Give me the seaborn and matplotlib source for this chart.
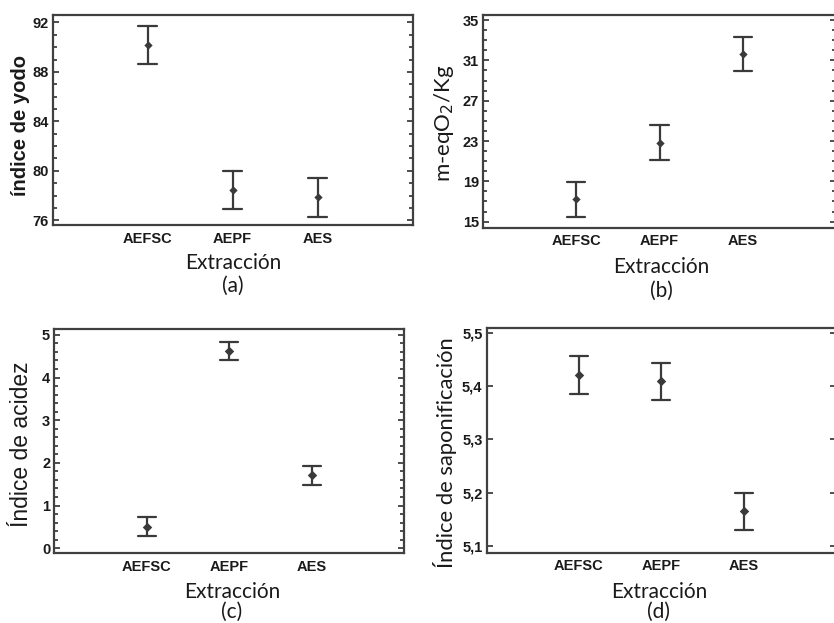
import numpy as np
import pandas as pd
import seaborn as sns
import matplotlib
matplotlib.use("Agg")
import matplotlib.pyplot as plt
from matplotlib.ticker import MultipleLocator, FixedLocator, FuncFormatter

# datos (media y semi-intervalo)
extraccion = ["AEFSC", "AEPF", "AES"]

yodo_media = [90.15, 78.45, 77.85]
yodo_semi = [1.55, 1.55, 1.55]
yodo_ticks = [76, 80, 84, 88, 92]

peroxido_media = [17.2, 22.85, 31.65]
peroxido_semi = [1.7, 1.7, 1.7]
peroxido_ticks = [15, 19, 23, 27, 31, 35]

acidez_media = [0.5, 4.62, 1.71]
acidez_semi = [0.22, 0.22, 0.22]
acidez_ticks = [0, 1, 2, 3, 4, 5]

sapon_media = [5.421, 5.409, 5.165]
sapon_semi = [0.035, 0.035, 0.035]
sapon_ticks = [5.1, 5.2, 5.3, 5.4, 5.5]

W, H = 834, 623
COLOR = "#3a3a3a"

sns.set_theme(style="ticks")
plt.rcParams["font.family"] = ["Liberation Sans", "DejaVu Sans"]

fig = plt.figure(figsize=(W / 100, H / 100), dpi=100)


def caja(left, top, right, bottom):
    # rectangulo en pixeles -> fraccion de figura
    return [left / W, 1 - bottom / H, (right - left) / W, (bottom - top) / H]


def a_ejes(rect, px, py):
    left, top, right, bottom = rect
    return (px - left) / (right - left), (bottom - py) / (bottom - top)


def tabla(media, semi):
    filas = []
    for cat, m, s in zip(extraccion, media, semi):
        for v in (m - s, m, m + s):
            filas.append({"Extracción": cat, "valor": v})
    return pd.DataFrame(filas)


paneles = [
    dict(media=yodo_media, semi=yodo_semi, rect=(52.7, 15, 412.7, 225.3),
         ylim=(75.6, 92.6), ticks=yodo_ticks, menor=1, coma=False, ms=2.2,
         ylabel="índice de yodo", yfont=dict(family="Liberation Sans", weight="bold", size=14.5),
         ypos=(21, 126), xpos=(233, 263), letra="(a)", lpos=(233, 286)),
    dict(media=peroxido_media, semi=peroxido_semi, rect=(483, 15, 836, 227.7),
         ylim=(14.4, 35.5), ticks=peroxido_ticks, menor=1, coma=False, ms=2.2,
         ylabel="m-eqO$_2$/Kg", yfont=dict(family="Lato", size=16),
         ypos=(444, 123), xpos=(661, 267), letra="(b)", lpos=(661, 291)),
    dict(media=acidez_media, semi=acidez_semi, rect=(54.3, 329.3, 404.3, 553.3),
         ylim=(-0.12, 5.13), ticks=acidez_ticks, menor=0.2, coma=False, ms=2.8,
         ylabel="Índice de acidez", yfont=dict(family="Liberation Sans", size=16.5),
         ypos=(22, 444), xpos=(232, 592), letra="(c)", lpos=(232, 612)),
    dict(media=sapon_media, semi=sapon_semi, rect=(486.7, 328.3, 836, 552.7),
         ylim=(5.087, 5.509), ticks=sapon_ticks, menor=None, coma=True, ms=2.8,
         ylabel="Índice de saponificación", yfont=dict(family="Lato", size=15.8),
         ypos=(445, 453), xpos=(659, 592), letra="(d)", lpos=(659, 612)),
]

for p in paneles:
    rect = p["rect"]
    ax = fig.add_axes(caja(*rect))
    df = tabla(p["media"], p["semi"])
    sns.pointplot(data=df, x="Extracción", y="valor", ax=ax,
                  estimator="median", errorbar=lambda v: (v.min(), v.max()),
                  linestyle="none", marker="D", markersize=p["ms"], color=COLOR,
                  capsize=0.22, err_kws={"linewidth": 1.6})

    ax.set_xlim(-1.12, 3.12)
    ax.set_ylim(*p["ylim"])
    ax.yaxis.set_major_locator(FixedLocator(p["ticks"]))
    if p["menor"]:
        ax.yaxis.set_minor_locator(MultipleLocator(p["menor"]))
    if p["coma"]:
        ax.yaxis.set_major_formatter(FuncFormatter(lambda v, pos: f"{v:.1f}".replace(".", ",")))
    else:
        ax.yaxis.set_major_formatter(FuncFormatter(lambda v, pos: f"{v:g}"))

    for lado in ax.spines.values():
        lado.set_visible(True)
        lado.set_linewidth(1.6)
        lado.set_color("#404040")

    ax.tick_params(axis="y", which="both", direction="in", left=True, right=True,
                   color="#404040", width=1.3, labelsize=10.5, pad=3)
    ax.tick_params(axis="y", which="major", length=4.5)
    ax.tick_params(axis="y", which="minor", length=3)
    ax.tick_params(axis="x", which="both", bottom=False, top=False, length=0,
                   labelsize=10.5, pad=4.5)
    for t in ax.get_xticklabels() + ax.get_yticklabels():
        t.set_fontweight("bold")
        t.set_color("#1a1a1a")

    ax.set_xlabel("")
    ax.set_ylabel("")
    cx, cy = a_ejes(rect, *p["ypos"])
    ax.text(cx, cy, p["ylabel"], transform=ax.transAxes, rotation=90,
            ha="center", va="center", color="#1a1a1a", clip_on=False, **p["yfont"])
    cx, cy = a_ejes(rect, *p["xpos"])
    ax.text(cx, cy, "Extracción", transform=ax.transAxes, ha="center", va="center",
            family="Lato", size=15, color="#1a1a1a", clip_on=False)
    cx, cy = a_ejes(rect, *p["lpos"])
    ax.text(cx, cy, p["letra"], transform=ax.transAxes, ha="center", va="center",
            family="Lato", size=15, color="#1a1a1a", clip_on=False)

fig.savefig("out.png", dpi=100, facecolor="white")
